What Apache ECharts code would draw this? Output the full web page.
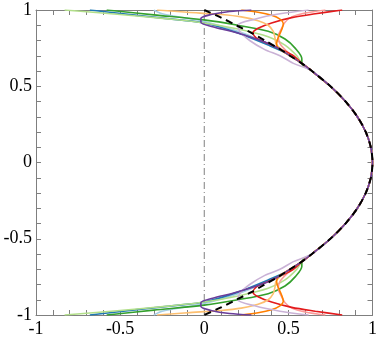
<!DOCTYPE html>
<html>
<head>
<meta charset="utf-8">
<script src="https://cdn.jsdelivr.net/npm/echarts@6/dist/echarts.min.js"></script>
<style>
  html, body { margin: 0; padding: 0; background: #fff; }
  #chart { width: 380px; height: 338px; }
</style>
</head>
<body>
<div id="chart"></div>
<script>
// parabola core, [x, y], y from 0 up to the wall
var core = [[1.0, 0], [0.99, 0.1], [0.96, 0.2], [0.91, 0.3], [0.84, 0.4], [0.75, 0.5], [0.64, 0.6],
	[0.58, 0.65], [0.51, 0.7], [0.44, 0.75], [0.36, 0.8], [0.28, 0.85], [0.19, 0.9], [0.1, 0.95], [0, 1]];

// near-wall part of each profile (upper half), from the wall inwards
var lightBlue = [[-0.3, 1], [-0.25, 0.975], [-0.1, 0.945], [0, 0.925], [0.2, 0.86], [0.38, 0.78], [0.5, 0.715]];
var blue = [[-0.68, 1], [-0.4, 0.965], [-0.15, 0.935], [0, 0.915], [0.2, 0.85], [0.38, 0.77], [0.5, 0.71]];
var lightGreen = [[-0.83, 1], [-0.5, 0.97], [-0.2, 0.94], [0, 0.915], [0.2, 0.875], [0.38, 0.825], [0.48, 0.77], [0.55, 0.7]];
var green = [[-0.58, 1], [-0.3, 0.968], [0, 0.935], [0.2, 0.9], [0.38, 0.86], [0.48, 0.81], [0.54, 0.75], [0.58, 0.68]];
var pink = [[0.72, 1], [0.6, 0.98], [0.52, 0.955], [0.48, 0.92], [0.46, 0.88], [0.44, 0.83], [0.45, 0.78], [0.5, 0.72]];
var red = [[0.82, 1], [0.66, 0.975], [0.52, 0.95], [0.4, 0.915], [0.32, 0.88], [0.29, 0.85], [0.31, 0.815], [0.38, 0.78], [0.46, 0.74], [0.53, 0.7]];
var lightOrange = [[-0.28, 1], [-0.1, 0.985], [0.1, 0.97], [0.22, 0.955], [0.32, 0.93], [0.38, 0.9], [0.41, 0.86], [0.42, 0.82], [0.43, 0.77]];
var orange = [[0.22, 1], [0.32, 0.985], [0.4, 0.965], [0.45, 0.94], [0.47, 0.91], [0.46, 0.87], [0.44, 0.82], [0.43, 0.78], [0.44, 0.75]];
var lightPurple = [[0.62, 1], [0.45, 0.975], [0.3, 0.94], [0.2, 0.9], [0.21, 0.86], [0.27, 0.8], [0.36, 0.74], [0.45, 0.7], [0.53, 0.65]];
var purple = [[0.28, 1], [0.15, 0.99], [0.04, 0.97], [-0.02, 0.945], [-0.02, 0.92], [0.05, 0.89], [0.16, 0.86], [0.27, 0.825], [0.36, 0.79]];

var profiles = [lightBlue, blue, lightGreen, green, pink, red, lightOrange, orange, lightPurple, purple];
var colors = ['#a6cee3', '#1f78b4', '#b2df8a', '#33a02c', '#fb9a99', '#e31a1c', '#fdbf6f', '#ff7f00', '#cab2d6', '#6a3d9a'];

var zeroLine = [[0, -1], [0, 1]];

// upper half (wall -> centre), then mirrored lower half
function fullCurve(wall) {
	var lastY = wall[wall.length - 1][1];
	var rest = core.filter(function (p) { return p[1] < lastY - 0.02; }).reverse();
	var top = wall.concat(rest);
	var bottom = top.slice(0, -1).reverse().map(function (p) { return [p[0], -p[1]]; });
	return top.concat(bottom);
}

var chart = echarts.init(document.getElementById('chart'));

var labelFont = { fontFamily: '"Liberation Serif", "DejaVu Serif", serif', fontSize: 18, color: '#000' };
var frameLine = { show: true, onZero: false, lineStyle: { color: '#7f7f7f', width: 1 } };
var tick = { show: true, inside: true, length: 5, lineStyle: { color: '#7f7f7f' } };
var minor = { show: true, splitNumber: 5, length: 5, lineStyle: { color: '#7f7f7f' } };

var series = [{
	type: 'line',
	data: zeroLine,
	symbol: 'none',
	lineStyle: { color: '#808080', width: 1, type: [7, 3, 1, 3] },
	z: 1
}];

profiles.forEach(function (p, i) {
	series.push({
		type: 'line',
		data: fullCurve(p),
		symbol: 'none',
		smooth: 0.3,
		lineStyle: { color: colors[i], width: 1.6 },
		z: 2 + i
	});
});

series.push({
	type: 'line',
	data: fullCurve([[0, 1]]),
	symbol: 'none',
	smooth: 0.3,
	lineStyle: { color: '#000', width: 2, type: [7, 5] },
	z: 20
});

var option = {
	animation: false,
	grid: { left: 36, right: 5, top: 10, bottom: 20 },
	xAxis: [{
		type: 'value', min: -1, max: 1, interval: 0.5,
		axisLine: frameLine, axisTick: tick, minorTick: minor,
		splitLine: { show: false },
		axisLabel: Object.assign({ margin: 5 }, labelFont)
	}, {
		type: 'value', position: 'top', min: -1, max: 1, interval: 0.5,
		axisLine: frameLine, axisTick: tick, minorTick: minor,
		splitLine: { show: false }, axisLabel: { show: false }
	}],
	yAxis: [{
		type: 'value', min: -1, max: 1, interval: 0.5,
		axisLine: frameLine, axisTick: tick, minorTick: minor,
		splitLine: { show: false },
		axisLabel: Object.assign({ margin: 4 }, labelFont)
	}, {
		type: 'value', position: 'right', min: -1, max: 1, interval: 0.5,
		axisLine: frameLine, axisTick: tick, minorTick: minor,
		splitLine: { show: false }, axisLabel: { show: false }
	}],
	series: series
};

chart.setOption(option);
</script>
</body>
</html>
